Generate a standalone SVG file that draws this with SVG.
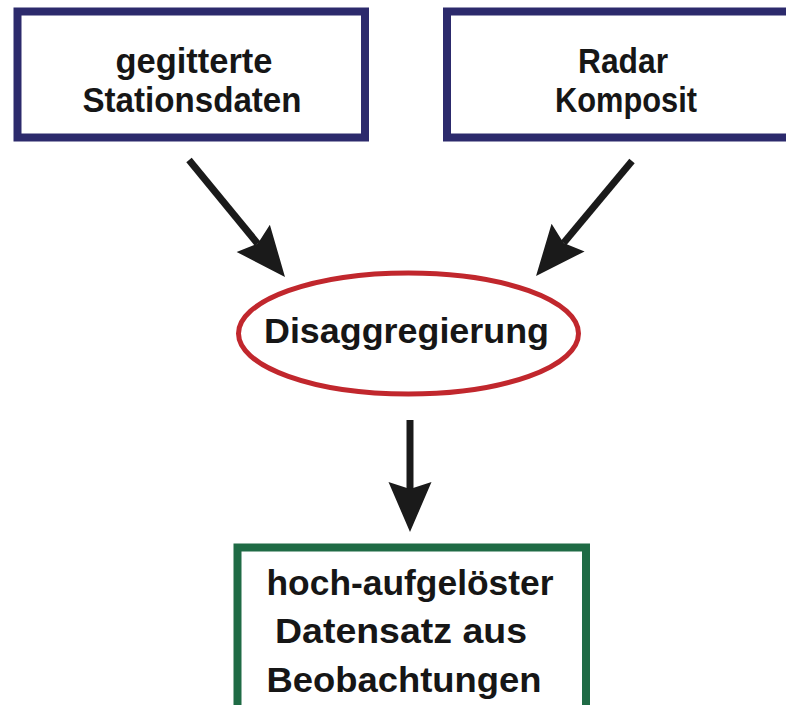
<svg xmlns="http://www.w3.org/2000/svg" width="786" height="705" viewBox="0 0 786 705">
  <style>
    .box { fill: #ffffff; stroke-width: 8; }
    .src { stroke: #2c2a6c; }
    .res { stroke: #1f6b45; }
    .proc { fill: #ffffff; stroke: #c1272d; stroke-width: 5; }
    .lbl { font-family: "Liberation Sans", Arial, sans-serif; font-weight: bold; font-size: 35px; fill: #161616; text-anchor: middle; }
    .conn { stroke: #1a1a1a; stroke-width: 7; fill: none; marker-end: url(#head); }
  </style>
  <defs>
    <marker id="head" markerUnits="userSpaceOnUse" markerWidth="50" markerHeight="43" viewBox="0 0 50 43" refX="7" refY="21.5" orient="auto" overflow="visible">
      <path d="M0,0 L50,21.5 L0,43 L7,21.5 Z" fill="#1a1a1a"/>
    </marker>
  </defs>
  <rect x="0" y="0" width="786" height="705" fill="#ffffff"/>

  <g id="connectors">
    <line class="conn" x1="189" y1="160" x2="257.7" y2="243.7"/>
    <line class="conn" x1="632" y1="161" x2="563.6" y2="243"/>
    <line class="conn" x1="410" y1="420" x2="410" y2="489"/>
  </g>

  <g id="node-stationsdaten">
    <rect class="box src" x="17.5" y="11.5" width="347.5" height="126"/>
    <text class="lbl" x="194" y="73" textLength="157" lengthAdjust="spacingAndGlyphs">gegitterte</text>
    <text class="lbl" x="192" y="112" textLength="219" lengthAdjust="spacingAndGlyphs">Stationsdaten</text>
  </g>

  <g id="node-radar">
    <rect class="box src" x="447" y="11.5" width="356" height="126"/>
    <text class="lbl" x="623" y="73" textLength="90" lengthAdjust="spacingAndGlyphs">Radar</text>
    <text class="lbl" x="626" y="112" textLength="142" lengthAdjust="spacingAndGlyphs">Komposit</text>
  </g>

  <g id="node-disaggregierung">
    <ellipse class="proc" cx="408.5" cy="333.5" rx="170" ry="60.5"/>
    <text class="lbl" x="406.5" y="343" textLength="285" lengthAdjust="spacingAndGlyphs">Disaggregierung</text>
  </g>

  <g id="node-datensatz">
    <rect class="box res" x="237.5" y="547.5" width="348.5" height="180"/>
    <text class="lbl" x="410" y="595" textLength="287" lengthAdjust="spacingAndGlyphs">hoch-aufgelöster</text>
    <text class="lbl" x="401" y="643" textLength="252" lengthAdjust="spacingAndGlyphs">Datensatz aus</text>
    <text class="lbl" x="404" y="692" textLength="275" lengthAdjust="spacingAndGlyphs">Beobachtungen</text>
  </g>
</svg>
